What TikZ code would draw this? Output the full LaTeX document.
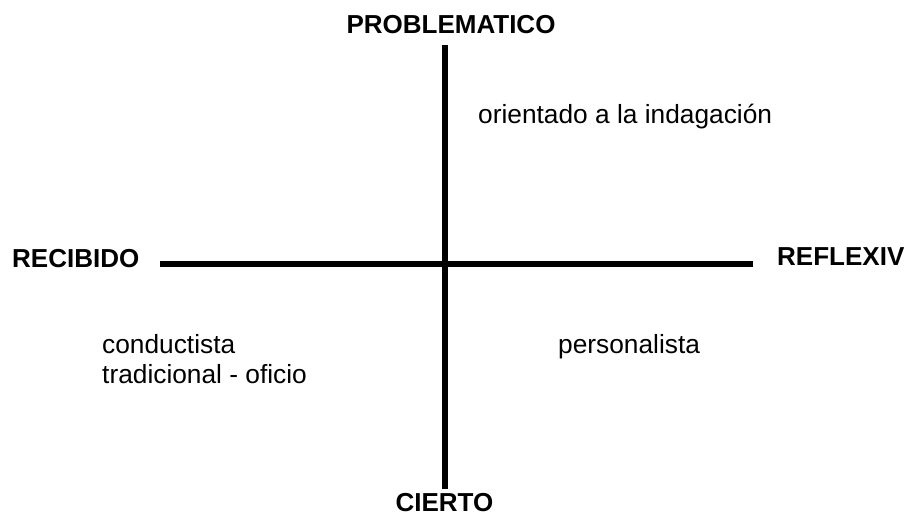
\documentclass[tikz,border=0pt]{standalone}
\usepackage{fontspec}
\setmainfont{Liberation Sans}
\begin{document}
\begin{tikzpicture}[x=1pt,y=-1pt,
  axislabel/.style={inner sep=0pt,font=\fontsize{26}{30}\selectfont\bfseries},
  quadlabel/.style={inner sep=0pt,anchor=base west,font=\fontsize{26.3}{30}\selectfont},
  axisline/.style={line width=5.5pt,line cap=butt}]
\useasboundingbox (0,0) rectangle (906,515);
\coordinate (top) at (445,45);
\coordinate (bottom) at (445,489);
\coordinate (left) at (160,264);
\coordinate (right) at (753,264);
\draw[axisline] (top) -- (bottom);
\draw[axisline] (left) -- (right);
\node[axislabel,anchor=base] (prob) at (451,33) {PROBLEMATICO};
\node[axislabel,anchor=base] (cierto) at (444.5,511) {CIERTO};
\node[axislabel,anchor=base west] (recibido) at (12,267) {RECIBIDO};
\node[axislabel,anchor=base west] (reflexiv) at (777,265) {REFLEXIV};
\node[quadlabel] (orient) at (478,123) {orientado a la indagación};
\node[quadlabel] (conduct) at (102,353) {conductista};
\node[quadlabel] (tradic) at (102,383) {tradicional - oficio};
\node[quadlabel] (person) at (558,353) {personalista};
\end{tikzpicture}
\end{document}
